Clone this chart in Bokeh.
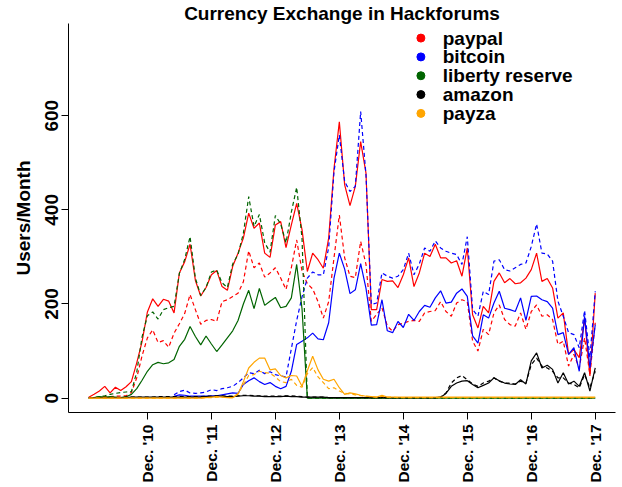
import math
from bokeh.plotting import figure
from bokeh.models import FixedTicker, ColumnDataSource
from bokeh.core.properties import value
from bokeh.embed import file_html
from bokeh.resources import INLINE

NAN = float("nan")

# months Jan 2010 .. Dec 2017 (index 0..95)
months = [f"{y}-{m:02d}" for y in range(2010, 2018) for m in range(1, 13)]
tick_months = [11, 23, 35, 47, 59, 71, 83, 95]
tick_labels = ["Dec. '10", "Dec. '11", "Dec. '12", "Dec. '13",
               "Dec. '14", "Dec. '15", "Dec. '16", "Dec. '17"]
y_ticks = [0, 200, 400, 600]

paypal_solid = [2, 8, 15, 25, 11, 23, 16, 24, 35, 75,
                120, 183, 211, 195, 210, 206, 181, 266, 290, 327,
                250, 217, 235, 262, 271, 237, 229, 280, 308, 340,
                393, 361, 372, 308, 299, 368, 375, 320, 368, 414,
                358, 269, 308, 294, 276, 340, 488, 587, 453, 409,
                450, 545, 478, 188, 188, 252, 248, 249, 235, 262,
                298, 237, 266, 308, 301, 327, 298, 298, 287, 292,
                259, 319, 177, 149, 195, 181, 248, 266, 245, 254,
                243, 245, 255, 273, 308, 248, 254, 234, 170, 181,
                93, 103, 86, 170, 47, 223]
paypal_dashed = [0, 1, 2, 3, 3, 4, 4, 5, 12, 43,
                 90, 128, 145, 118, 122, 108, 138, 158, 180, 220,
                 188, 157, 165, 167, 163, 205, 209, 216, 223, 247,
                 313, 277, 287, 257, 266, 277, 255, 231, 277, 336,
                 270, 243, 232, 205, 170, 205, 298, 389, 298, 259,
                 256, 333, 284, 163, 178, 192, 153, 142, 156, 159,
                 163, 165, 163, 181, 184, 186, 205, 184, 174, 202,
                 209, 205, 121, 100, 146, 135, 181, 198, 167, 156,
                 153, 181, 146, 184, 198, 174, 177, 167, 114, 121,
                 68, 93, 64, 128, 50, 160]
bitcoin_solid = [NAN] * 16 + [4, 7, 6, 4,
                 4, 4, 4, 5, 5, 7, 9, 11, 10, 29,
                 37, 43, 35, 29, 33, 25, 20, 25, 57, 114,
                 121, 128, 138, 126, 124, 160, 255, 308, 274, 222,
                 230, 286, 233, 155, 156, 209, 143, 139, 163, 150,
                 178, 165, 184, 197, 193, 213, 228, 202, 204, 223,
                 232, 216, 132, 117, 177, 170, 202, 227, 191, 188,
                 184, 213, 165, 216, 217, 209, 205, 191, 135, 139,
                 93, 107, 57, 174, 64, 156]
bitcoin_dashed = [NAN] * 16 + [7, 14, 17, 11,
                  10, 11, 13, 18, 16, 20, 22, 25, 33, 43,
                  54, 52, 59, 52, 56, 50, 47, 45, 105, 165,
                  215, 255, 268, 262, 262, 320, 481, 559, 460, 439,
                  450, 609, 474, 199, 202, 266, 259, 255, 259, 273,
                  308, 262, 285, 319, 312, 334, 319, 312, 308, 305,
                  284, 343, 188, 174, 227, 220, 291, 294, 273, 270,
                  277, 284, 287, 322, 370, 308, 306, 291, 206, 174,
                  139, 135, 107, 186, 86, 227]
liberty_solid = [1, 1, 3, 2, 3, 2, 1, 3, 8, 20,
                 38, 57, 71, 76, 73, 75, 82, 110, 125, 152,
                 131, 113, 132, 115, 99, 113, 128, 143, 165, 200,
                 229, 190, 233, 197, 206, 214, 192, 195, 213, 284,
                 190] + [0] * 55
liberty_dashed = [0, 1, 3, 5, 8, 10, 12, 13, 14, 55,
                  130, 175, 183, 168, 188, 192, 195, 265, 295, 343,
                  255, 218, 235, 268, 272, 245, 235, 285, 305, 350,
                  428, 365, 390, 330, 310, 388, 370, 330, 395, 448,
                  340] + [0] * 55
amazon_solid = [1, 1, 1, 1, 1, 1, 1, 1, 2, 2,
                2, 2, 2, 2, 2, 2, 2, 2, 2, 2,
                2, 2, 3, 3, 4, 4, 3, 3, 4, 5,
                5, 4, 4, 3, 3, 3, 3, 4, 3, 3,
                2, 2, 2, 2, 2, 1, 1, 1, 1, 1,
                1, 1, 1, 1, 1, 1, 1, 1, 1, 1,
                1, 1, 1, 1, 1, 1, 2, 10, 25, 32,
                36, 37, 29, 22, 27, 32, 43, 37, 32, 30,
                29, 39, 30, 79, 96, 64, 70, 61, 32, 54,
                30, 36, 25, 54, 15, 64]
amazon_dashed = [0, 1, 1, 1, 1, 1, 1, 2, 2, 2,
                 2, 2, 2, 3, 3, 3, 3, 3, 3, 3,
                 3, 3, 4, 4, 5, 5, 4, 4, 5, 6,
                 6, 5, 5, 4, 4, 4, 4, 5, 5, 4,
                 3, 2, 2, 2, 2, 1, 1, 1, 1, 1,
                 1, 1, 1, 1, 1, 1, 1, 1, 1, 1,
                 1, 1, 1, 1, 1, 1, 2, 11, 32, 43,
                 48, 39, 30, 25, 32, 36, 43, 36, 32, 32,
                 30, 36, 32, 71, 85, 68, 64, 57, 43, 43,
                 32, 29, 22, 50, 22, 57]
payza_solid = [0] * 22 + [1, 2, 3, 2, 1, 1,
               8, 35, 64, 76, 85, 85, 60, 62, 48, 43, 48, 47,
               25, 58, 89, 60, 40, 36, 40, 22, 8, 11,
               9, 6, 4, 3, 2, 6, 2, 2, 2, 2] + [2] * 36
payza_dashed = [0] * 22 + [1, 1, 2, 2, 1, 1,
                10, 28, 48, 50, 57, 54, 53, 45, 35, 33, 40, 27,
                23, 52, 65, 45, 33, 20, 22, 15, 10, 9,
                7, 5, 4, 3, 2, 4, 2, 2, 1, 1] + [1] * 36

series = [
    ("paypal", "#FF0000", paypal_solid, paypal_dashed),
    ("bitcoin", "#0000FF", bitcoin_solid, bitcoin_dashed),
    ("liberty reserve", "#006400", liberty_solid, liberty_dashed),
    ("amazon", "#000000", amazon_solid, amazon_dashed),
    ("payza", "#FFA500", payza_solid, payza_dashed),
]

x = list(range(len(months)))
FONT = "Liberation Sans"

n = len(months) - 1
p = figure(width=622, height=487, output_backend="svg", toolbar_location=None,
           x_range=(-0.04 * n, n * 1.04), y_range=(-30.6, 796),
           min_border_left=68, min_border_right=7, min_border_top=22,
           min_border_bottom=75)
p.outline_line_color = None
p.xgrid.visible = False
p.ygrid.visible = False
p.background_fill_color = "white"

p.title.text = "Currency Exchange in Hackforums"
p.title.text_font = FONT
p.title.text_font_style = "bold"
p.title.text_font_size = "19px"
p.title.text_color = "black"
p.title.align = "center"
p.title.standoff = 0
p.title.offset = 0

for name, col, solid, dashed in series:
    src = ColumnDataSource(dict(x=x, solid=solid, dashed=dashed))
    p.line("x", "solid", source=src, line_color=col, line_width=1.2)
    p.line("x", "dashed", source=src, line_color=col, line_width=1.2,
           line_dash="4 3")

# axes
xa = p.xaxis[0]
xa.ticker = FixedTicker(ticks=tick_months)
xa.major_label_overrides = {t: l for t, l in zip(tick_months, tick_labels)}
xa.major_label_orientation = math.pi / 2
xa.major_label_text_font = FONT
xa.major_label_text_font_style = "bold"
xa.major_label_text_font_size = "15.5px"
xa.major_label_text_color = "black"
xa.major_tick_out = 7
xa.major_tick_in = 0
xa.minor_tick_out = 0
xa.minor_tick_in = 0
xa.major_label_standoff = 5
xa.axis_line_color = "black"

ya = p.yaxis[0]
ya.ticker = FixedTicker(ticks=y_ticks)
ya.major_label_orientation = "vertical"
ya.major_label_text_font = FONT
ya.major_label_text_font_style = "bold"
ya.major_label_text_font_size = "19px"
ya.major_label_text_color = "black"
ya.major_tick_out = 7
ya.major_tick_in = 0
ya.minor_tick_out = 0
ya.minor_tick_in = 0
ya.major_label_standoff = 3
ya.axis_label = "Users/Month"
ya.axis_label_text_font = FONT
ya.axis_label_text_font_style = "bold"
ya.axis_label_text_font_size = "19px"
ya.axis_label_text_color = "black"
ya.axis_label_standoff = 9
ya.axis_line_color = "black"

# legend (dots + labels)
leg_names = [s[0] for s in series]
leg_cols = [s[1] for s in series]
leg_y = [765 - 40 * k for k in range(len(series))]
p.scatter([62.3] * len(series), leg_y, size=8, color=leg_cols)
p.text([66.4] * len(series), leg_y, text=leg_names,
       text_font=value(FONT), text_font_style="bold",
       text_font_size="19px", text_align="left",
       text_baseline="middle", text_color="black")

open("out.html", "w").write(file_html(p, INLINE))
